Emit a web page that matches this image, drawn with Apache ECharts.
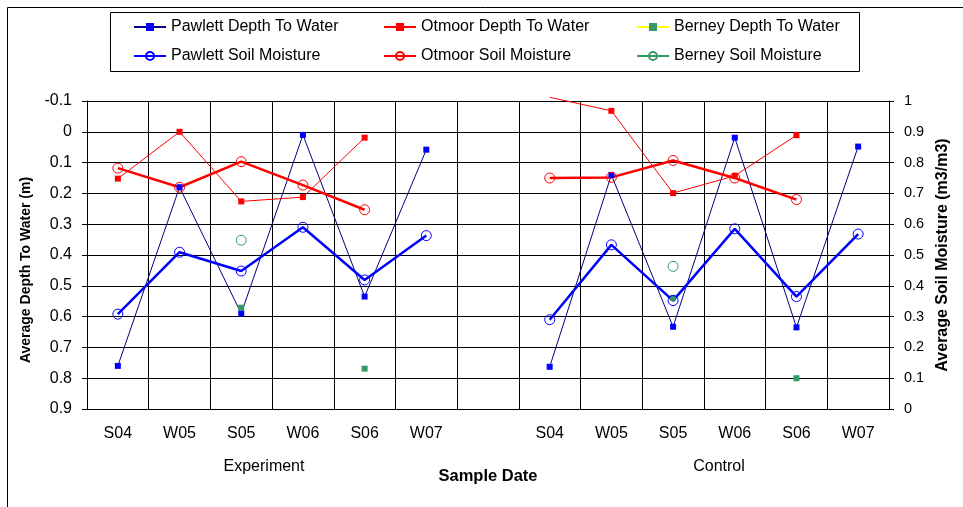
<!DOCTYPE html>
<html>
<head>
<meta charset="utf-8">
<script src="https://cdn.jsdelivr.net/npm/echarts@6/dist/echarts.min.js"></script>
<style>
  html, body { margin: 0; padding: 0; background: #fff; }
  #chart { width: 963px; height: 507px; }
</style>
</head>
<body>
<div id="chart"></div>
<script>
// x categories, the blank one is the gap between the two groups
var categories = ['S04', 'W05', 'S05', 'W06', 'S06', 'W07', '', 'S04', 'W05', 'S05', 'W06', 'S06', 'W07'];
var groupLabels = ['Experiment', 'Control'];

// depth to water (m), left axis, inverted
var pawlettDepth = [0.76, 0.18, 0.59, 0.01, 0.535, 0.058, null, 0.763, 0.14, 0.633, 0.019, 0.635, 0.048];
var otmoorDepth = [0.152, 0.0, 0.226, 0.212, 0.019, null, null, -0.112, -0.068, 0.199, 0.143, 0.011, null];
var berneyDepth = [null, null, 0.571, null, 0.769, null, null, null, null, 0.539, null, 0.80, null];

// soil moisture (m3/m3), right axis
var pawlettMoisture = [0.308, 0.509, 0.448, 0.59, 0.419, 0.563, null, 0.29, 0.533, 0.352, 0.585, 0.365, 0.568];
var otmoorMoisture = [0.782, 0.72, 0.803, 0.727, 0.647, null, null, 0.75, 0.752, 0.807, 0.75, 0.68, null];
var berneyMoisture = [null, null, 0.548, null, null, null, null, null, null, 0.463, null, null, null];

var depthMin = -0.1, depthMax = 0.9;
var font = 'Liberation Sans, Arial, sans-serif';

var chart = echarts.init(document.getElementById('chart'), null, { renderer: 'canvas' });

function fmt(v) {
    return String(parseFloat(v.toFixed(1)));
}

// points above the axis top: keep the line going there but hide the marker
function depthData(arr) {
    return arr.map(function (v) {
        if (v !== null && v < depthMin) return { value: v, symbol: 'none' };
        return v;
    });
}

function depthSeries(name, data, lineColor, markColor) {
    return {
        name: name,
        type: 'line',
        yAxisIndex: 0,
        data: depthData(data),
        symbol: 'rect',
        symbolSize: 6,
        showAllSymbol: true,
        clip: false,
        animation: false,
        lineStyle: { color: lineColor, width: 1 },
        itemStyle: { color: markColor, borderWidth: 0 },
        emphasis: { disabled: true }
    };
}

function moistureSeries(name, data, color) {
    return {
        name: name,
        type: 'line',
        yAxisIndex: 1,
        data: data,
        symbol: 'circle',
        symbolSize: 10,
        showAllSymbol: true,
        animation: false,
        lineStyle: { color: color, width: 2.5 },
        itemStyle: { color: 'rgba(255,255,255,0)', borderColor: color, borderWidth: 1 },
        emphasis: { disabled: true }
    };
}

function legendCol(left, names) {
    return {
        orient: 'vertical',
        left: left,
        top: 18,
        padding: 0,
        itemGap: 11,
        itemWidth: 32,
        itemHeight: 10,
        data: names,
        selectedMode: false,
        textStyle: { fontFamily: font, fontSize: 16, color: '#000', lineHeight: 18 }
    };
}

var option = {
    backgroundColor: '#fff',
    animation: false,
    grid: { left: 87, right: 74, top: 101, bottom: 98 },
    legend: [
        legendCol(133, ['Pawlett Depth To Water', 'Pawlett Soil Moisture']),
        legendCol(383, ['Otmoor Depth To Water', 'Otmoor Soil Moisture']),
        legendCol(636, ['Berney Depth To Water', 'Berney Soil Moisture'])
    ],
    xAxis: {
        type: 'category',
        data: categories,
        boundaryGap: true,
        name: 'Sample Date',
        nameLocation: 'middle',
        nameGap: 59,
        nameTextStyle: { fontFamily: font, fontSize: 16.5, fontWeight: 'bold', color: '#000' },
        axisLine: { lineStyle: { color: '#000', width: 1 } },
        axisTick: { show: false },
        axisLabel: { interval: 0, margin: 17, fontFamily: font, fontSize: 16, color: '#000' },
        splitLine: { show: true, interval: 0, lineStyle: { color: '#000', width: 1 } }
    },
    yAxis: [{
        type: 'value',
        inverse: true,
        min: depthMin,
        max: depthMax,
        interval: 0.1,
        name: 'Average Depth To Water (m)',
        nameLocation: 'middle',
        nameGap: 50,
        nameTextStyle: { fontFamily: font, fontSize: 14, fontWeight: 'bold', color: '#000', padding: [0, 30, 0, 0] },
        axisLine: { show: true, lineStyle: { color: '#000', width: 1 } },
        axisTick: { show: true, length: 5, lineStyle: { color: '#000' } },
        axisLabel: { margin: 15, fontFamily: font, fontSize: 16, color: '#000', formatter: fmt },
        splitLine: { show: true, lineStyle: { color: '#000', width: 1 } }
    }, {
        type: 'value',
        min: 0,
        max: 1,
        interval: 0.1,
        name: 'Average Soil Moisture (m3/m3)',
        nameLocation: 'middle',
        nameGap: 43,
        nameTextStyle: { fontFamily: font, fontSize: 16, fontWeight: 'bold', color: '#000' },
        axisLine: { show: true, lineStyle: { color: '#000', width: 1 } },
        axisTick: { show: true, length: 5, lineStyle: { color: '#000' } },
        axisLabel: { margin: 15, fontFamily: font, fontSize: 14.5, color: '#000', formatter: fmt },
        splitLine: { show: false }
    }],
    graphic: [
        // chart area border
        { type: 'rect', z: -10, shape: { x: 7.5, y: 7.5, width: 1000, height: 600 },
          style: { fill: '#fff', stroke: '#000', lineWidth: 1 } },
        // legend box
        { type: 'rect', z: 0, shape: { x: 110.5, y: 12.5, width: 749, height: 59 },
          style: { fill: '#fff', stroke: '#000', lineWidth: 1 } },
        { type: 'text', x: 264, y: 467, style: { text: groupLabels[0], fontFamily: font, fontSize: 16, fill: '#000', align: 'center', verticalAlign: 'middle' } },
        { type: 'text', x: 719, y: 467, style: { text: groupLabels[1], fontFamily: font, fontSize: 16, fill: '#000', align: 'center', verticalAlign: 'middle' } }
    ],
    series: [
        depthSeries('Pawlett Depth To Water', pawlettDepth, '#000080', '#0000ff'),
        depthSeries('Otmoor Depth To Water', otmoorDepth, '#ff0000', '#ff0000'),
        depthSeries('Berney Depth To Water', berneyDepth, '#ffff00', '#339966'),
        moistureSeries('Pawlett Soil Moisture', pawlettMoisture, '#0000ff'),
        moistureSeries('Otmoor Soil Moisture', otmoorMoisture, '#ff0000'),
        moistureSeries('Berney Soil Moisture', berneyMoisture, '#339966')
    ]
};

chart.setOption(option);
</script>
</body>
</html>
